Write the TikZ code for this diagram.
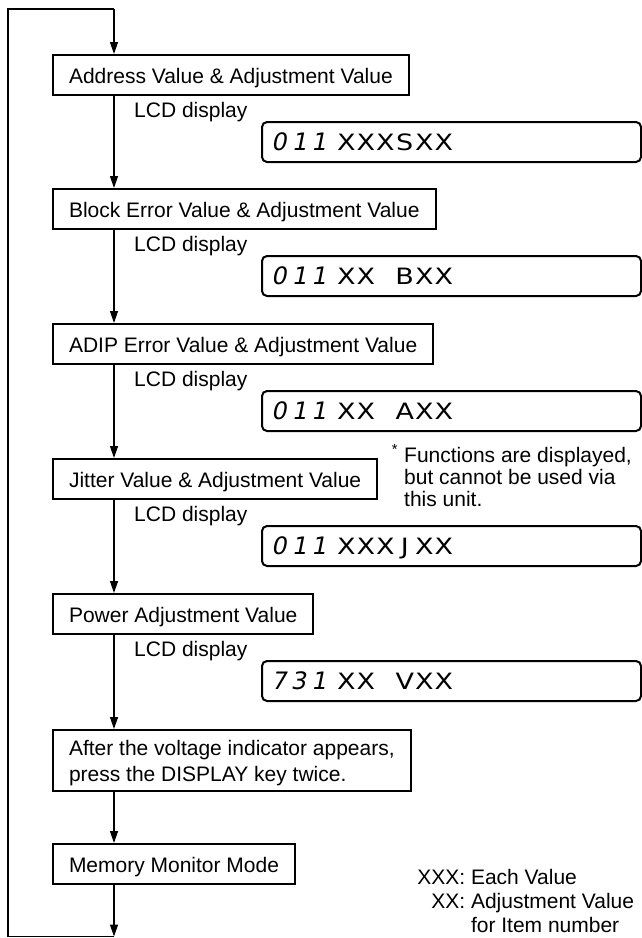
\documentclass[tikz,border=0pt]{standalone}
\usepackage{graphicx}
\usepackage{fontspec}
\setmainfont{Liberation Sans}
\newfontfamily\lcdfont{DejaVu Sans}
\newfontfamily\lcddig[FakeSlant=0.2]{DejaVu Sans}
\usetikzlibrary{arrows.meta}
\newcommand\lcdL[1]{\makebox[19.5pt][c]{\scalebox{1.2}[1]{#1}}}
\newcommand\lcdD[1]{\makebox[19.5pt][c]{#1}}
\newcommand\lcdI{\makebox[19.5pt][r]{1\kern1pt}}
\newcommand\lcdtext[2]{\makebox[365pt][l]{\lcddig\fontsize{24}{24}\selectfont #1\hspace{9pt}\lcdfont\fontsize{22.5}{24}\selectfont #2}}
\newcommand\mainfs{\fontsize{21}{25}\selectfont}
\newcommand\legkey[1]{\makebox[48pt][r]{#1}\ }
\tikzset{
  box/.style={draw, line width=2pt, anchor=north west, minimum height=40pt,
    inner xsep=16pt, inner ysep=0pt, text height=17pt, text depth=1pt, font=\mainfs},
  lcd/.style={draw, line width=2pt, rounded corners=5pt, anchor=north west,
    minimum height=40pt, inner xsep=7pt, inner ysep=0pt, text height=17pt, text depth=1pt},
  lbl/.style={anchor=base west, inner sep=0pt, font=\mainfs},
  arr/.style={line width=1.3pt, -{Triangle[length=12pt,width=8pt]}},
  ln/.style={line width=1.3pt}
}
\begin{document}
\begin{tikzpicture}[x=1pt,y=-1pt]
\useasboundingbox (0,0) rectangle (642,938);
\coordinate (sp) at (114,0);
\coordinate (tl) at (8,9);
\coordinate (bl) at (8,936.5);

% process boxes
\node[box] (b1) at (52,54) {Address Value \& Adjustment Value};
\node[box] (b2) at (52,188) {Block Error Value \& Adjustment Value};
\node[box] (b3) at (52,323) {ADIP Error Value \& Adjustment Value};
\node[box] (b4) at (52,458) {Jitter Value \& Adjustment Value};
\node[box] (b5) at (52,593) {Power Adjustment Value};
\node[box, minimum height=61pt, text height=15pt, text depth=25pt,
  font=\fontsize{21}{26}\selectfont] (b6) at (52,729)
  {\begin{tabular}[t]{@{}l@{}}After the voltage indicator appears,\\press the DISPLAY key twice.\end{tabular}};
\node[box] (b7) at (52,843) {Memory Monitor Mode};

% LCD labels
\node[lbl] (l1) at (134,117.5) {LCD display};
\node[lbl] (l2) at (134,251.5) {LCD display};
\node[lbl] (l3) at (134,386.5) {LCD display};
\node[lbl] (l4) at (134,521.5) {LCD display};
\node[lbl] (l5) at (134,656.5) {LCD display};

% LCD displays
\node[lcd] (d1) at (261,121) {\lcdtext{\lcdD{0}\lcdI\lcdI}{\lcdL{X}\lcdL{X}\lcdL{X}\lcdL{S}\lcdL{X}\lcdL{X}}};
\node[lcd] (d2) at (261,255) {\lcdtext{\lcdD{0}\lcdI\lcdI}{\lcdL{X}\lcdL{X}\lcdL{}\lcdL{B}\lcdL{X}\lcdL{X}}};
\node[lcd] (d3) at (261,390) {\lcdtext{\lcdD{0}\lcdI\lcdI}{\lcdL{X}\lcdL{X}\lcdL{}\lcdL{A}\lcdL{X}\lcdL{X}}};
\node[lcd] (d4) at (261,525) {\lcdtext{\lcdD{0}\lcdI\lcdI}{\lcdL{X}\lcdL{X}\lcdL{X}\lcdL{J}\lcdL{X}\lcdL{X}}};
\node[lcd] (d5) at (261,660) {\lcdtext{\lcdD{7}\lcdD{3}\lcdI}{\lcdL{X}\lcdL{X}\lcdL{}\lcdL{V}\lcdL{X}\lcdL{X}}};

% note
\node[anchor=base west, inner sep=0pt, font=\fontsize{21}{22}\selectfont] (nt) at (404,462.5)
  {\begin{tabular}[t]{@{}l@{}}\llap{\textsuperscript{*}\hspace{6pt}}Functions are displayed,\\but cannot be used via\\this unit.\end{tabular}};

% legend
\node[anchor=south west, inner sep=0pt, align=left, font=\fontsize{21}{24}\selectfont] (lg) at (417,933)
  {\legkey{XXX:}Each Value\\\legkey{XX:}Adjustment Value\\\legkey{}for Item number};

% connectors
\draw[arr] (sp |- tl) -- (b1.north -| sp);
\draw[ln] (sp |- bl) -- (bl) -- (tl) -- (sp |- tl);
\draw[arr] (b1.south -| sp) -- (b2.north -| sp);
\draw[arr] (b2.south -| sp) -- (b3.north -| sp);
\draw[arr] (b3.south -| sp) -- (b4.north -| sp);
\draw[arr] (b4.south -| sp) -- (b5.north -| sp);
\draw[arr] (b5.south -| sp) -- (b6.north -| sp);
\draw[arr] (b6.south -| sp) -- (b7.north -| sp);
\draw[arr] (b7.south -| sp) -- (sp |- bl);
\end{tikzpicture}
\end{document}
